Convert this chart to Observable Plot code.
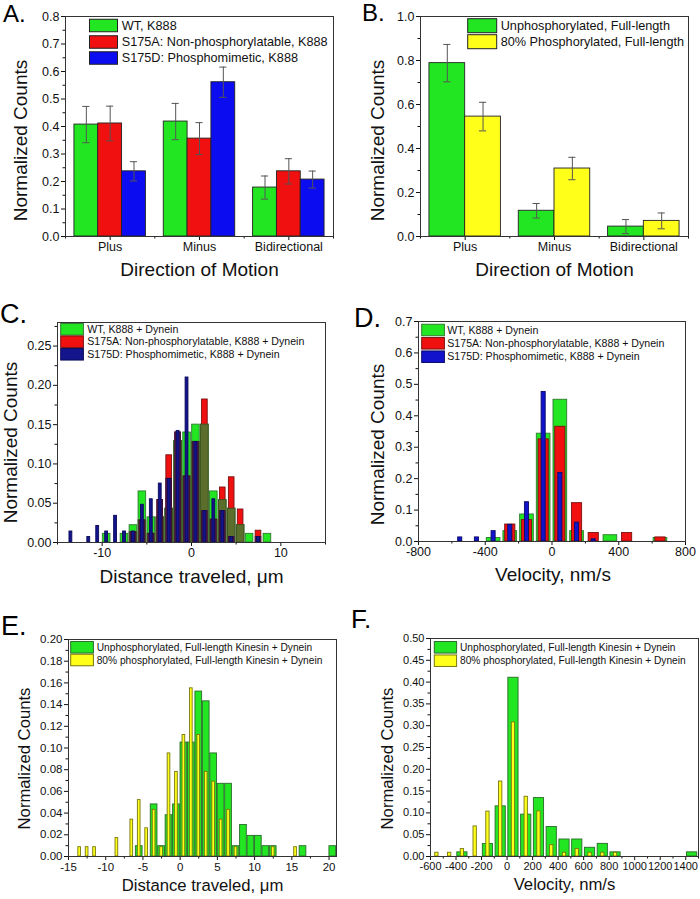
<!DOCTYPE html>
<html>
<head>
<meta charset="utf-8">
<script src="https://cdn.jsdelivr.net/npm/d3@7"></script>
<script src="https://cdn.jsdelivr.net/npm/@observablehq/plot@0.6"></script>
<style>
  body { margin: 0; background: #fff; }
  #fig { position: relative; width: 700px; height: 899px; overflow: hidden; background: #fff; }
</style>
</head>
<body>
<div id="fig"></div>
<script>
// ---------------- DATA ----------------
const directions = ["Plus", "Minus", "Bidirectional"];

const seriesA = ["WT, K888", "S175A: Non-phosphorylatable, K888", "S175D: Phosphomimetic, K888"];
const aWT = [0.407, 0.418, 0.178];
const aWTErr = [0.066, 0.066, 0.042];
const aS175A = [0.411, 0.356, 0.237];
const aS175AErr = [0.063, 0.058, 0.046];
const aS175D = [0.237, 0.561, 0.207];
const aS175DErr = [0.035, 0.055, 0.031];

const seriesB = ["Unphosphorylated, Full-length", "80% Phosphorylated, Full-length"];
const bUnphos = [0.788, 0.117, 0.045];
const bUnphosErr = [0.085, 0.033, 0.032];
const bPhos = [0.545, 0.309, 0.071];
const bPhosErr = [0.065, 0.051, 0.036];

const seriesC = ["WT, K888 + Dynein", "S175A: Non-phosphorylatable, K888 + Dynein", "S175D: Phosphomimetic, K888 + Dynein"];
const cWTBins = [-9.5, -7.5, -6.5, -5.5, -4.5, -3.5, -2.5, -1.5, -0.5, 0.5, 1.5, 2.5, 3.5, 4.5, 5.5, 6.5, 8.5];
const cWTVals = [0.011, 0.011, 0.022, 0.065, 0.032, 0.032, 0.043, 0.129, 0.140, 0.150, 0.150, 0.065, 0.054, 0.043, 0.022, 0.011, 0.011];
const cS175ABins = [-6.5, -5.5, -4.5, -3.5, -2.5, -1.5, -0.5, 0.5, 1.5, 2.5, 3.5, 4.5, 5.5, 7.5];
const cS175AVals = [0.013, 0.028, 0.011, 0.054, 0.111, 0.140, 0.084, 0.128, 0.182, 0.029, 0.070, 0.083, 0.042, 0.015];
const cS175DBins = [-13.5, -11.5, -10.5, -9.5, -8.5, -7.5, -6.5, -5.5, -4.5, -3.5, -2.5, -1.5, -0.5, 0.5, 1.5, 2.5, 3.5, 4.5, 7.5];
const cS175DVals = [0.014, 0.007, 0.021, 0.014, 0.034, 0.014, 0.014, 0.048, 0.055, 0.075, 0.081, 0.142, 0.210, 0.128, 0.040, 0.055, 0.040, 0.007, 0.007];

const dWTBins = [-350, -250, -150, -50, 50, 150, 350, 650];
const dWTVals = [0.011, 0.033, 0.086, 0.343, 0.451, 0.033, 0.020, 0.011];
const dS175ABins = [-250, -150, -50, 50, 150, 250, 450, 650];
const dS175AVals = [0.054, 0.068, 0.325, 0.365, 0.122, 0.027, 0.027, 0.013];
const dS175DBins = [-550, -450, -350, -250, -150, -50, 50, 150, 250];
const dS175DVals = [0.013, 0.013, 0.033, 0.053, 0.125, 0.476, 0.218, 0.060, 0.007];

const seriesE = ["Unphosphorylated, Full-length Kinesin + Dynein", "80% phosphorylated, Full-length Kinesin + Dynein"];
const eUnphosBins = [-5.5, -3.5, -2.5, -1.5, -0.5, 0.5, 1.5, 2.5, 3.5, 4.5, 5.5, 6.5, 7.5, 8.5, 9.5, 10.5, 11.5, 12.5, 16.5, 20.5];
const eUnphosVals = [0.0095, 0.048, 0.0095, 0.038, 0.048, 0.105, 0.105, 0.152, 0.143, 0.095, 0.067, 0.067, 0.0095, 0.029, 0.019, 0.019, 0.0095, 0.0095, 0.0095, 0.0095];
const ePhosBins = [-13.5, -12.5, -11.5, -8.5, -6.5, -5.5, -4.5, -3.5, -2.5, -1.5, -0.5, 0.5, 1.5, 2.5, 3.5, 4.5, 5.5, 6.5, 7.5, 12.5, 15.5];
const ePhosVals = [0.0086, 0.0086, 0.0086, 0.017, 0.034, 0.052, 0.026, 0.043, 0.0086, 0.095, 0.078, 0.112, 0.155, 0.112, 0.078, 0.069, 0.034, 0.043, 0.0086, 0.0086, 0.0086];

const fUnphosBins = [-350, -150, -50, 50, 150, 250, 350, 450, 550, 650, 750, 850, 1450];
const fUnphosVals = [0.0095, 0.0286, 0.115, 0.410, 0.096, 0.134, 0.0676, 0.039, 0.039, 0.020, 0.029, 0.0095, 0.0095];
const fPhosBins = [-550, -450, -350, -250, -150, -50, 50, 150, 250, 350, 450, 550, 650, 750, 850];
const fPhosVals = [0.0086, 0.0086, 0.017, 0.069, 0.103, 0.172, 0.3075, 0.137, 0.1035, 0.026, 0.0086, 0.017, 0.0086, 0.0086, 0.0086];

const yTitle = "Normalized Counts";
const xTitleAB = "Direction of Motion";
const xTitleCE = "Distance traveled, \u03bcm";
const xTitleDF = "Velocity, nm/s";

// ---------------- STYLE ----------------
const FONT = "'Liberation Sans', Arial, Helvetica, sans-serif";
const GREEN = "#22e622", RED = "#f01010", BLUE = "#0c0cf0", YELLOW = "#ffff1a";
const fig = document.getElementById("fig");

function place(el, left, top) {
  el.style.position = "absolute";
  el.style.left = left + "px";
  el.style.top = top + "px";
  fig.appendChild(el);
}

function axes({xMajor, xMinor, xFmt, yMajor, yMinor, yFmt}) {
  return [
    Plot.axisX({ticks: xMajor, tickFormat: xFmt, tickSize: 4, tickPadding: 2, label: null}),
    Plot.axisX({ticks: xMinor, tickFormat: () => "", tickSize: 2.5, label: null}),
    Plot.axisY({ticks: yMajor, tickFormat: yFmt, tickSize: 4, tickPadding: 2, label: null}),
    Plot.axisY({ticks: yMinor, tickFormat: () => "", tickSize: 2.5, label: null}),
    Plot.frame({stroke: "#333", strokeWidth: 1})
  ];
}

function titles(xt, yt, o) {
  return [
    Plot.text([xt], {frameAnchor: "bottom", dx: o.xdx || 0, dy: o.xdy, fontSize: o.fs, textAnchor: "middle", fill: "#111"}),
    Plot.text([yt], {frameAnchor: "left", rotate: -90, dx: o.ydx, dy: o.ydy, fontSize: o.fs2 || o.fs, textAnchor: "middle", fill: "#111"})
  ];
}

function groupRows(values, errs, si, n) {
  return directions.map((d, i) => {
    const x1 = i - 0.4 + si * 0.8 / n, x2 = x1 + 0.8 / n;
    return {cat: d, x1, x2, mid: (x1 + x2) / 2, y: values[i], lo: values[i] - errs[i], hi: values[i] + errs[i]};
  });
}

function groupMarks(rows, fill) {
  const cap = 0.04;
  return [
    Plot.rectY(rows, {x1: "x1", x2: "x2", y1: 0, y2: "y", fill, stroke: "#222", strokeWidth: 0.9}),
    Plot.ruleX(rows, {x: "mid", y1: "lo", y2: "hi", stroke: "#555", strokeWidth: 1}),
    Plot.ruleY(rows, {y: "hi", x1: d => d.mid - cap, x2: d => d.mid + cap, stroke: "#555", strokeWidth: 1}),
    Plot.ruleY(rows, {y: "lo", x1: d => d.mid - cap, x2: d => d.mid + cap, stroke: "#555", strokeWidth: 1})
  ];
}

function hist(bins, vals, w) {
  return bins.map((c, i) => ({c, x1: c - w / 2, x2: c + w / 2, y: vals[i]}));
}

function histMark(rows, fill, stroke) {
  return Plot.rectY(rows, {x1: "x1", x2: "x2", y1: 0, y2: "y", fill, stroke, strokeWidth: 0.9});
}

const baseStyle = (fs) => ({fontFamily: FONT, fontSize: fs + "px", color: "#111", background: "transparent", overflow: "visible"});

// ---------------- PANEL A ----------------
const catAxisX = {
  xMajor: [0, 1, 2], xMinor: [-0.5, 0.5, 1.5, 2.5], xFmt: i => directions[i]
};
const plotA = Plot.plot({
  width: 350, height: 290,
  marginLeft: 65, marginRight: 17, marginTop: 16, marginBottom: 54,
  style: baseStyle(12.5),
  x: {domain: [-0.5, 2.5]},
  y: {domain: [0, 0.8]},
  marks: [
    ...groupMarks(groupRows(aWT, aWTErr, 0, 3), GREEN),
    ...groupMarks(groupRows(aS175A, aS175AErr, 1, 3), RED),
    ...groupMarks(groupRows(aS175D, aS175DErr, 2, 3), BLUE),
    ...axes({...catAxisX, yMajor: d3.range(0, 0.801, 0.1), yMinor: d3.range(0.05, 0.8, 0.1), yFmt: d3.format(".1f")}),
    ...titles(xTitleAB, yTitle, {xdy: 39, fs: 19, ydx: -45, ydy: 14})
  ]
});
place(plotA, 0, 0);

// ---------------- PANEL B ----------------
const plotB = Plot.plot({
  width: 350, height: 290,
  marginLeft: 70, marginRight: 12, marginTop: 16, marginBottom: 54,
  style: baseStyle(12.5),
  x: {domain: [-0.5, 2.5]},
  y: {domain: [0, 1.0]},
  marks: [
    ...groupMarks(groupRows(bUnphos, bUnphosErr, 0, 2), GREEN),
    ...groupMarks(groupRows(bPhos, bPhosErr, 1, 2), YELLOW),
    ...axes({...catAxisX, yMajor: d3.range(0, 1.001, 0.2), yMinor: d3.range(0.1, 1.0, 0.2), yFmt: d3.format(".1f")}),
    ...titles(xTitleAB, yTitle, {xdx: 0, xdy: 39, fs: 19, ydx: -43, ydy: 14})
  ]
});
place(plotB, 350, 0);

// ---------------- PANEL C ----------------
const cG = hist(cWTBins, cWTVals, 0.85);
const cR = hist(cS175ABins, cS175AVals, 0.63);
const cB = hist(cS175DBins, cS175DVals, 0.32);
const cGmap = new Map(cG.map(d => [d.c, d.y]));
const cBmap = new Map(cB.map(d => [d.c, d.y]));
const cOlive = cR.filter(d => cGmap.has(d.c)).map(d => ({x1: d.c - 0.425, x2: d.c + 0.425, y: Math.min(d.y, cGmap.get(d.c))}));
const cPurple = cR.filter(d => cBmap.has(d.c)).map(d => ({x1: d.x1, x2: d.x2, y: Math.min(d.y, cBmap.get(d.c))}));
const plotC = Plot.plot({
  width: 350, height: 300,
  marginLeft: 57, marginRight: 25, marginTop: 32, marginBottom: 48,
  style: baseStyle(12.5),
  x: {domain: [-15, 15]},
  y: {domain: [0, 0.28]},
  marks: [
    histMark(cG, GREEN, "#2f7a2f"),
    histMark(cR, RED, "#7a1010"),
    histMark(cOlive, "#5c6e2c", "#3e5222"),
    histMark(cPurple, "#5a1c4e", "#3a0f34"),
    histMark(cB, "#14148c", "#0a0a5a"),
    ...axes({xMajor: [-10, 0, 10], xMinor: [-15, -5, 5, 15], xFmt: d => String(d),
             yMajor: d3.range(0, 0.251, 0.05), yMinor: d3.range(0.025, 0.28, 0.05), yFmt: d3.format(".2f")}),
    ...titles(xTitleCE, yTitle, {xdy: 40, fs: 19, ydx: -47, ydy: 10})
  ]
});
place(plotC, 0, 290);

// ---------------- PANEL D ----------------
const plotD = Plot.plot({
  width: 350, height: 300,
  marginLeft: 68, marginRight: 15, marginTop: 31, marginBottom: 49,
  style: baseStyle(12.5),
  x: {domain: [-800, 800]},
  y: {domain: [0, 0.7]},
  marks: [
    histMark(hist(dWTBins, dWTVals, 82), GREEN, "#2f7a2f"),
    histMark(hist(dS175ABins, dS175AVals, 61), RED, "#7a1010"),
    histMark(hist(dS175DBins, dS175DVals, 24.5), "#1212cc", "#0a0a66"),
    ...axes({xMajor: [-800, -400, 0, 400, 800], xMinor: [-600, -200, 200, 600], xFmt: d => String(d),
             yMajor: d3.range(0, 0.701, 0.1), yMinor: d3.range(0.05, 0.7, 0.1), yFmt: d3.format(".1f")}),
    ...titles(xTitleDF, yTitle, {xdx: 1, xdy: 39, fs: 19, ydx: -41, ydy: 13})
  ]
});
place(plotD, 350, 290);

// ---------------- PANEL E ----------------
const plotE = Plot.plot({
  width: 350, height: 309,
  marginLeft: 68, marginRight: 14, marginTop: 49, marginBottom: 43,
  style: baseStyle(11.5),
  x: {domain: [-15, 21]},
  y: {domain: [0, 0.2]},
  marks: [
    histMark(hist(eUnphosBins, eUnphosVals, 0.9), GREEN, "#2a6a2a"),
    histMark(hist(ePhosBins, ePhosVals, 0.36), YELLOW, "#77770f"),
    ...axes({xMajor: d3.range(-15, 20.1, 5), xMinor: d3.range(-12.5, 21, 5), xFmt: d => String(d),
             yMajor: d3.range(0, 0.2001, 0.02), yMinor: d3.range(0.01, 0.2, 0.02), yFmt: d3.format(".2f")}),
    ...titles(xTitleCE, yTitle, {xdy: 34, fs: 16.7, ydx: -44, ydy: 10.5})
  ]
});
place(plotE, 0, 590);

// ---------------- PANEL F ----------------
const plotF = Plot.plot({
  width: 350, height: 309,
  marginLeft: 80, marginRight: 2, marginTop: 48, marginBottom: 43,
  style: baseStyle(11),
  x: {domain: [-600, 1500]},
  y: {domain: [0, 0.5]},
  marks: [
    histMark(hist(fUnphosBins, fUnphosVals, 80), GREEN, "#2a6a2a"),
    histMark(hist(fPhosBins, fPhosVals, 26), YELLOW, "#77770f"),
    ...axes({xMajor: d3.range(-600, 1401, 200), xMinor: d3.range(-500, 1501, 200), xFmt: d => String(d),
             yMajor: d3.range(0, 0.501, 0.05), yMinor: d3.range(0.025, 0.5, 0.05), yFmt: d3.format(".2f")}),
    ...titles(xTitleDF, yTitle, {xdy: 33, fs: 16.7, ydx: -43, ydy: 11})
  ]
});
place(plotF, 350, 590);

// ---------------- LEGENDS & PANEL LETTERS (overlay text) ----------------
const ov = d3.create("svg")
  .attr("width", 700).attr("height", 899)
  .style("position", "absolute").style("left", "0px").style("top", "0px")
  .style("pointer-events", "none")
  .style("font-family", FONT);

const letters = [
  {t: "A.", x: 3, y: 21.5, s: 24}, {t: "B.", x: 362, y: 20.5, s: 24},
  {t: "C.", x: 0, y: 323, s: 27}, {t: "D.", x: 354, y: 327, s: 27},
  {t: "E.", x: 1, y: 635, s: 27}, {t: "F.", x: 351, y: 628, s: 26}
];
ov.selectAll("text.letter").data(letters).join("text").attr("class", "letter")
  .attr("x", d => d.x).attr("y", d => d.y).attr("font-size", d => d.s).attr("fill", "#000").text(d => d.t);

function legend(labels, fills, strokes, o) {
  labels.forEach((lab, i) => {
    const cy = o.rows[i];
    ov.append("rect").attr("x", o.x).attr("y", cy - o.h / 2).attr("width", o.w).attr("height", o.h)
      .attr("fill", fills[i]).attr("stroke", strokes[i]).attr("stroke-width", 1);
    ov.append("text").attr("x", o.tx).attr("y", cy).attr("dy", "0.35em")
      .attr("font-size", o.fs).attr("fill", "#111").text(lab);
  });
}
legend(seriesA, [GREEN, RED, BLUE], ["#222", "#222", "#222"], {x: 89.5, w: 28, h: 12.5, rows: [25.5, 42, 58], tx: 121.7, fs: 12.7});
legend(seriesB, [GREEN, YELLOW], ["#222", "#222"], {x: 467.7, w: 29, h: 14, rows: [25.7, 41.7], tx: 500.7, fs: 12.7});
legend(seriesC, [GREEN, RED, "#14148c"], ["#2f7a2f", "#7a1010", "#0a0a5a"], {x: 60.7, w: 22.7, h: 11.5, rows: [329.3, 341.7, 354.3], tx: 87.3, fs: 10.6});
legend(seriesC, [GREEN, RED, "#1212cc"], ["#2f7a2f", "#7a1010", "#0a0a66"], {x: 421.7, w: 22.7, h: 11.5, rows: [330, 343.3, 356.7], tx: 447.3, fs: 10.6});
legend(seriesE, [GREEN, YELLOW], ["#2a6a2a", "#77770f"], {x: 70.7, w: 22.7, h: 11.5, rows: [647.3, 660], tx: 96.7, fs: 10.2});
legend(seriesE, [GREEN, YELLOW], ["#2a6a2a", "#77770f"], {x: 434.3, w: 22.3, h: 11.5, rows: [647.3, 660.7], tx: 460, fs: 10.2});

fig.appendChild(ov.node());
</script>
</body>
</html>
